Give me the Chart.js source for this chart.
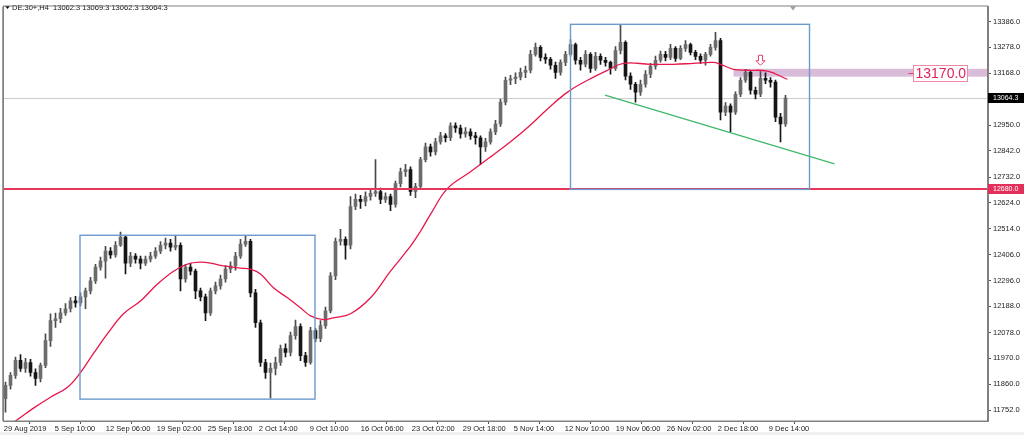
<!DOCTYPE html>
<html>
<head>
<meta charset="utf-8">
<title>DE.30+,H4</title>
<script src="https://cdn.jsdelivr.net/npm/chart.js@4.4.1/dist/chart.umd.min.js"></script>
<style>
	html, body { margin: 0; padding: 0; background: #fff; }
	#wrap { width: 1024px; height: 435px; position: relative; }
</style>
</head>
<body>
<div id="wrap"><canvas id="priceChart"></canvas></div>
<script>
const symbolTitle = 'DE.30+,H4  13062.3 13069.3 13062.3 13064.3';

const dateLabels = ['29 Aug 2019', '5 Sep 10:00', '12 Sep 06:00', '19 Sep 02:00', '25 Sep 18:00', '2 Oct 14:00', '9 Oct 10:00', '16 Oct 06:00',
	'23 Oct 02:00', '29 Oct 18:00', '5 Nov 14:00', '12 Nov 10:00', '19 Nov 06:00', '26 Nov 02:00', '2 Dec 18:00', '9 Dec 14:00'];
const dateBars = [-0.34, 9.86, 20.06, 30.26, 40.46, 50.66, 60.86, 71.06, 81.26, 91.46, 101.66, 111.86, 122.06, 132.26, 142.46, 152.66];

const priceTicks = [13386, 13278, 13168, 12950, 12842, 12732, 12624, 12514, 12406, 12296, 12188, 12078, 11970, 11860, 11752];
const priceRange = [11706, 13449];

const bidPrice = 13064.3;
const supportLevel = 12680;
const resistZone = [13154, 13187];
const resistFrom = 145.6;
const noteText = '13170.0';
const noteAt = [181.6, 13170];
const arrowAt = [151, 13244, 13202];
const trendLine = [[119.9, 13076], [165.8, 12787]];
// [from bar, to bar, top price, bottom price]
const boxes = [[14.9, 61.9, 12487, 11798], [113, 160.8, 13374, 12680]];

// open, high, low, close
const ohlc = [
	[11800, 11870, 11743, 11856], [11856, 11910, 11840, 11898], [11898, 11975, 11885, 11961], [11961, 11985, 11915, 11927],
	[11927, 11970, 11910, 11952], [11952, 11965, 11895, 11910], [11910, 11925, 11856, 11885], [11885, 11950, 11870, 11940],
	[11940, 12073, 11930, 12044], [12044, 12157, 12020, 12128], [12128, 12160, 12100, 12136], [12136, 12180, 12120, 12161],
	[12161, 12200, 12150, 12178], [12178, 12225, 12165, 12211], [12211, 12230, 12185, 12203], [12203, 12245, 12190, 12228],
	[12228, 12265, 12178, 12253], [12253, 12310, 12240, 12295], [12295, 12365, 12285, 12353], [12353, 12395, 12340, 12378],
	[12378, 12440, 12307, 12420], [12420, 12435, 12390, 12404], [12404, 12460, 12395, 12445], [12445, 12500, 12440, 12479],
	[12479, 12485, 12324, 12370], [12370, 12415, 12355, 12399], [12399, 12410, 12370, 12387], [12387, 12400, 12345, 12370],
	[12370, 12400, 12360, 12387], [12387, 12415, 12375, 12399], [12399, 12435, 12390, 12420], [12420, 12460, 12410, 12445],
	[12445, 12475, 12430, 12454], [12454, 12470, 12420, 12437], [12437, 12483, 12425, 12445], [12445, 12455, 12253, 12303],
	[12303, 12365, 12290, 12353], [12353, 12370, 12320, 12336], [12336, 12345, 12220, 12253], [12253, 12265, 12211, 12228],
	[12228, 12240, 12128, 12161], [12161, 12265, 12150, 12253], [12253, 12290, 12240, 12274], [12274, 12320, 12260, 12303],
	[12303, 12360, 12290, 12345], [12345, 12375, 12330, 12358], [12358, 12415, 12340, 12399], [12399, 12470, 12390, 12450],
	[12450, 12485, 12440, 12462], [12462, 12470, 12228, 12245], [12245, 12260, 12100, 12119], [12119, 12130, 11935, 11952],
	[11952, 11965, 11885, 11910], [11910, 11950, 11802, 11927], [11927, 11975, 11900, 11952], [11952, 12025, 11940, 12011],
	[12011, 12030, 11975, 11994], [11994, 12080, 11980, 12065], [12065, 12130, 12050, 12103], [12103, 12115, 11960, 11981],
	[11981, 11995, 11935, 11952], [11952, 12100, 11945, 12086], [12086, 12095, 12040, 12053], [12053, 12128, 12040, 12107],
	[12107, 12185, 12095, 12169], [12169, 12330, 12160, 12316], [12316, 12475, 12300, 12462], [12462, 12512, 12445, 12470],
	[12470, 12480, 12387, 12445], [12445, 12650, 12430, 12608], [12608, 12660, 12595, 12638], [12638, 12655, 12600, 12629],
	[12629, 12670, 12610, 12650], [12650, 12680, 12635, 12663], [12663, 12805, 12650, 12671], [12671, 12685, 12620, 12638],
	[12638, 12665, 12625, 12650], [12650, 12660, 12590, 12617], [12617, 12715, 12605, 12704], [12704, 12770, 12690, 12754],
	[12754, 12785, 12735, 12763], [12763, 12775, 12655, 12671], [12671, 12705, 12645, 12692], [12692, 12815, 12680, 12805],
	[12805, 12875, 12795, 12859], [12859, 12870, 12820, 12838], [12838, 12895, 12825, 12880], [12880, 12920, 12870, 12905],
	[12905, 12915, 12880, 12897], [12897, 12960, 12885, 12947], [12947, 12960, 12920, 12938], [12938, 12950, 12895, 12913],
	[12913, 12940, 12900, 12922], [12922, 12935, 12890, 12905], [12905, 12920, 12870, 12897], [12897, 12905, 12784, 12859],
	[12859, 12895, 12840, 12880], [12880, 12935, 12870, 12922], [12922, 12970, 12910, 12955], [12955, 13060, 12945, 13047],
	[13047, 13152, 13035, 13139], [13139, 13160, 13120, 13145], [13145, 13170, 13125, 13152], [13152, 13190, 13140, 13172],
	[13172, 13198, 13150, 13181], [13181, 13265, 13170, 13248], [13248, 13295, 13240, 13277], [13277, 13285, 13220, 13235],
	[13235, 13250, 13210, 13227], [13227, 13235, 13185, 13202], [13202, 13215, 13147, 13172], [13172, 13225, 13160, 13214],
	[13214, 13260, 13200, 13248], [13248, 13310, 13240, 13289], [13289, 13295, 13206, 13223], [13223, 13235, 13181, 13206],
	[13206, 13264, 13195, 13248], [13248, 13255, 13172, 13189], [13189, 13256, 13180, 13239], [13239, 13250, 13205, 13223],
	[13223, 13235, 13198, 13214], [13214, 13220, 13164, 13189], [13189, 13280, 13180, 13264], [13264, 13373, 13250, 13298],
	[13298, 13305, 13140, 13156], [13156, 13170, 13100, 13122], [13122, 13130, 13047, 13089], [13089, 13140, 13075, 13122],
	[13122, 13180, 13110, 13164], [13164, 13210, 13150, 13198], [13198, 13240, 13185, 13223], [13223, 13262, 13215, 13248],
	[13248, 13260, 13220, 13235], [13235, 13290, 13225, 13273], [13273, 13280, 13218, 13231], [13231, 13285, 13225, 13273],
	[13273, 13306, 13260, 13289], [13289, 13295, 13245, 13256], [13256, 13265, 13225, 13239], [13239, 13250, 13210, 13223],
	[13223, 13256, 13202, 13248], [13248, 13290, 13240, 13277], [13277, 13340, 13265, 13306], [13306, 13315, 12972, 13005],
	[13005, 13045, 12990, 13030], [13030, 13040, 12922, 13005], [13005, 13090, 12995, 13080], [13080, 13150, 13070, 13139],
	[13139, 13185, 13130, 13172], [13172, 13180, 13080, 13097], [13097, 13110, 13060, 13080], [13080, 13175, 13070, 13147],
	[13147, 13170, 13125, 13139], [13139, 13150, 13110, 13131], [13131, 13140, 12965, 12984], [12984, 13000, 12880, 12955],
	[12955, 13075, 12945, 13064]
];

// moving average: [bar, price]
const maPoints = [
	[0, 11680], [2, 11706], [5.6, 11760], [9, 11806], [12.4, 11848], [15, 11910], [17.6, 11990], [20.4, 12073], [23.6, 12157],
	[27, 12211], [30.4, 12282], [33.6, 12336], [36.4, 12366], [39, 12374], [41, 12370], [43.6, 12358], [47, 12349], [49, 12345],
	[51, 12324], [53.6, 12266], [56.4, 12224], [59, 12182], [61, 12148], [63.6, 12132], [65.6, 12140], [69, 12157], [73, 12224],
	[77, 12336], [81, 12441], [83, 12504], [85, 12575], [88.4, 12684], [93, 12754], [97.6, 12826], [101, 12880], [105, 12951],
	[108.4, 13018], [112.4, 13089], [116.4, 13139], [120.4, 13181], [123.6, 13210], [129, 13206], [133.6, 13206], [137.6, 13210],
	[141.6, 13214], [143, 13206], [145.6, 13185], [148.4, 13181], [152.4, 13177], [156.4, 13143]
];

const bullColor = '#6c6c6c';
const bearColor = '#161616';
const isBull = (i) => ohlc[i] && ohlc[i][3] >= ohlc[i][0];

const overlays = {
	id: 'overlays',
	beforeDraw(chart) {
		const c = chart.ctx;
		c.save();
		c.fillStyle = '#f0f0f0';
		c.fillRect(0, 432, chart.width, chart.height - 432);
		c.restore();
	},
	beforeDatasetsDraw(chart) {
		const { ctx: c, chartArea: a, scales: { x, y } } = chart;
		c.save();
		// resistance zone
		const zx = x.getPixelForValue(resistFrom);
		const zt = y.getPixelForValue(resistZone[1]);
		const zb = y.getPixelForValue(resistZone[0]);
		c.fillStyle = '#d9bcd9';
		c.fillRect(zx, zt, a.right - zx, zb - zt);
		// bid line
		c.fillStyle = '#cdcdcd';
		c.fillRect(a.left, Math.round(y.getPixelForValue(bidPrice)), a.right - a.left, 1);
		c.restore();
	},
	afterDatasetsDraw(chart) {
		const { ctx: c, chartArea: a, scales: { x, y } } = chart;
		c.save();
		c.beginPath();
		c.rect(a.left, a.top, a.right - a.left, a.bottom - a.top);
		c.clip();

		// support line
		c.fillStyle = '#e8355c';
		c.fillRect(a.left, Math.round(y.getPixelForValue(supportLevel)) - 1, a.right - a.left, 2);

		// boxes
		c.strokeStyle = '#6b9bcc';
		c.lineWidth = 1.4;
		boxes.forEach(b => {
			const l = x.getPixelForValue(b[0]);
			const r = x.getPixelForValue(b[1]);
			const t = y.getPixelForValue(b[2]);
			const btm = y.getPixelForValue(b[3]);
			c.strokeRect(l, t, r - l, btm - t);
		});

		// trend line
		c.strokeStyle = '#3dba6c';
		c.lineWidth = 1.3;
		c.beginPath();
		c.moveTo(x.getPixelForValue(trendLine[0][0]), y.getPixelForValue(trendLine[0][1]));
		c.lineTo(x.getPixelForValue(trendLine[1][0]), y.getPixelForValue(trendLine[1][1]));
		c.stroke();

		// arrow
		const ax = x.getPixelForValue(arrowAt[0]);
		const at = y.getPixelForValue(arrowAt[1]);
		const ab = y.getPixelForValue(arrowAt[2]);
		const ah = (ab - at) * 0.45;
		c.beginPath();
		c.moveTo(ax - 2, at);
		c.lineTo(ax + 2, at);
		c.lineTo(ax + 2, ab - ah);
		c.lineTo(ax + 4.5, ab - ah);
		c.lineTo(ax, ab);
		c.lineTo(ax - 4.5, ab - ah);
		c.lineTo(ax - 2, ab - ah);
		c.closePath();
		c.fillStyle = '#fff';
		c.fill();
		c.strokeStyle = '#e0406a';
		c.lineWidth = 1;
		c.stroke();

		// note label
		c.font = '14px "Liberation Sans", Arial, sans-serif';
		const nw = c.measureText(noteText).width;
		const nx = x.getPixelForValue(noteAt[0]);
		const ny = y.getPixelForValue(noteAt[1]);
		c.fillStyle = '#fff';
		c.fillRect(nx, ny - 8, nw + 4, 16);
		c.strokeStyle = '#ee8aa4';
		c.lineWidth = 1;
		c.strokeRect(Math.round(nx) + 0.5, Math.round(ny - 8) + 0.5, Math.round(nw + 3), 16);
		c.strokeStyle = '#e0406a';
		c.beginPath();
		c.moveTo(nx - 5, Math.round(ny) + 0.5);
		c.lineTo(nx, Math.round(ny) + 0.5);
		c.stroke();
		c.fillStyle = '#e0245a';
		c.textBaseline = 'middle';
		c.textAlign = 'left';
		c.fillText(noteText, nx + 2, ny + 1);
		c.restore();

		// title
		c.save();
		c.fillStyle = '#111';
		c.beginPath();
		c.moveTo(a.left + 2, 6);
		c.lineTo(a.left + 7, 6);
		c.lineTo(a.left + 4.5, 9);
		c.closePath();
		c.fill();
		c.font = '7.5px "Liberation Sans", Arial, sans-serif';
		c.textBaseline = 'middle';
		c.fillText(symbolTitle, a.left + 9, 8);

		// chart shift marker
		const mx = x.getPixelForValue(ohlc.length + 0.5);
		c.fillStyle = '#a0a0a0';
		c.beginPath();
		c.moveTo(mx - 3, a.top);
		c.lineTo(mx + 3, a.top);
		c.lineTo(mx, a.top + 4);
		c.closePath();
		c.fill();

		// frame
		c.strokeStyle = '#808080';
		c.lineWidth = 1;
		c.strokeRect(a.left + 0.5, a.top - 0.5, a.right - a.left - 1, a.bottom - a.top + 0.5);
		c.fillStyle = '#a0a0a0';
		c.fillRect(a.left - 1, a.top, 1, a.bottom - a.top);

		// price tags on the axis
		const tag = (price, bg) => {
			const ty = Math.round(y.getPixelForValue(price));
			c.fillStyle = bg;
			c.fillRect(a.right, ty - 5, chart.width - a.right, 10);
			c.fillStyle = '#fff';
			c.font = '7px "Liberation Sans", Arial, sans-serif';
			c.textBaseline = 'middle';
			c.textAlign = 'left';
			c.fillText(price.toFixed(1), a.right + 5, ty + 0.5);
		};
		tag(bidPrice, '#000');
		tag(supportLevel, '#e3305a');
		c.restore();
	}
};

const ctx = document.getElementById('priceChart').getContext('2d');
new Chart(ctx, {
	type: 'bar',
	data: {
		datasets: [{
			type: 'line',
			label: 'MA',
			data: maPoints.map(p => ({ x: p[0], y: p[1] })),
			borderColor: '#e8174b',
			borderWidth: 1.3,
			pointRadius: 0,
			tension: 0.4,
			order: 1
		}, {
			label: 'Body',
			data: ohlc.map((b, i) => ({ x: i, y: [b[0], b[3]] })),
			backgroundColor: (c) => isBull(c.dataIndex) ? bullColor : bearColor,
			barThickness: 3,
			minBarLength: 1,
			grouped: false,
			order: 2
		}, {
			label: 'Wick',
			data: ohlc.map((b, i) => ({ x: i, y: [b[2], b[1]] })),
			backgroundColor: (c) => isBull(c.dataIndex) ? '#4a4a4a' : bearColor,
			barThickness: 1,
			grouped: false,
			order: 3
		}]
	},
	options: {
		responsive: true,
		maintainAspectRatio: false,
		animation: false,
		layout: { padding: { left: 3, top: 4, right: 0, bottom: 0 } },
		plugins: {
			legend: { display: false },
			tooltip: { enabled: false }
		},
		scales: {
			x: {
				type: 'linear',
				min: -0.5,
				max: 196.5,
				offset: false,
				afterBuildTicks: (s) => { s.ticks = dateBars.map(v => ({ value: v })); },
				afterFit: (s) => { s.height = 14; },
				ticks: {
					autoSkip: false,
					maxRotation: 0,
					align: 'start',
					padding: 0,
					color: '#222',
					font: { family: '"Liberation Sans", Arial, sans-serif', size: 7.5 },
					callback: function(value, index) {
						return dateLabels[index];
					}
				},
				grid: { drawOnChartArea: false, tickLength: 3, color: '#555' },
				border: { color: '#808080' }
			},
			y: {
				type: 'linear',
				position: 'right',
				min: priceRange[0],
				max: priceRange[1],
				afterBuildTicks: (s) => { s.ticks = priceTicks.map(v => ({ value: v })); },
				afterFit: (s) => { s.width = 36; },
				ticks: {
					padding: 2,
					color: '#222',
					font: { family: '"Liberation Sans", Arial, sans-serif', size: 7.5 },
					callback: function(value) {
						return value.toFixed(1);
					}
				},
				grid: { drawOnChartArea: false, tickLength: 3, color: '#555' },
				border: { color: '#808080' }
			}
		}
	},
	plugins: [overlays]
});
</script>
</body>
</html>
